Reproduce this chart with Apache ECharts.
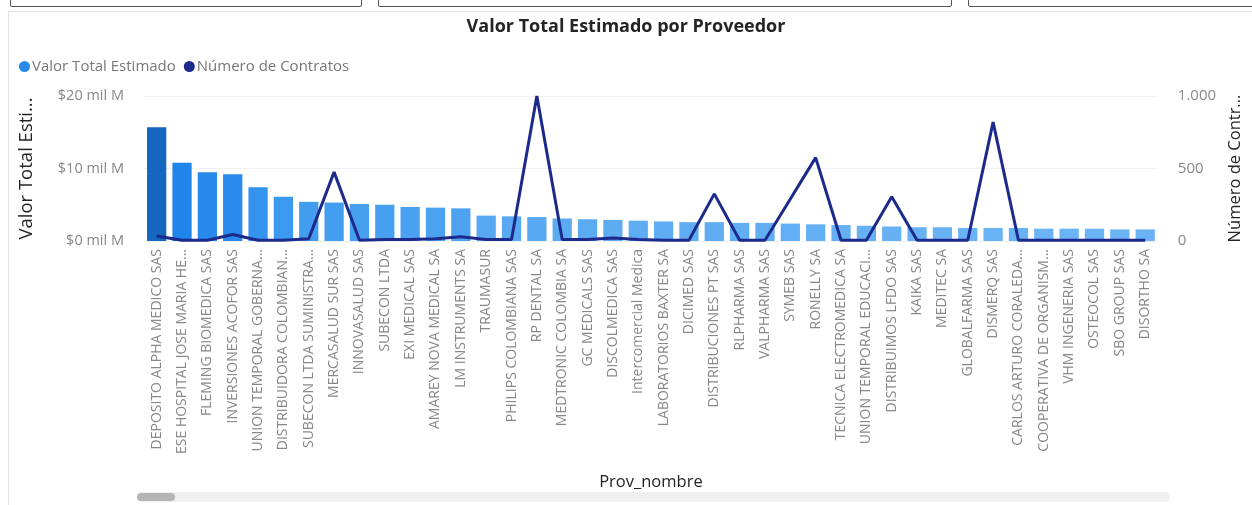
<!DOCTYPE html>
<html>
<head>
<meta charset="utf-8">
<script src="https://cdn.jsdelivr.net/npm/echarts@6/dist/echarts.min.js"></script>
<style>
  html, body { margin: 0; padding: 0; background: #fff; }
  .slicer { position: absolute; top: -4px; height: 9px; border: 1px solid #555; border-radius: 2px; background: #fff; }
  .frame { position: absolute; left: 8px; top: 11px; width: 1260px; height: 510px; border: 1px solid #e3e3e3; }
  .scroll { position: absolute; left: 137px; top: 492px; width: 1033px; height: 10px; background: #f0f0f0; border-radius: 5px; }
  .thumb { position: absolute; left: 0; top: 1px; width: 38px; height: 8px; background: #b5b5b5; border-radius: 4px; }
  #chart { position: absolute; left: 0; top: 0; width: 1252px; height: 505px; }
</style>
</head>
<body>
<div class="slicer" style="left:10px;width:350px"></div>
<div class="slicer" style="left:378px;width:572px"></div>
<div class="slicer" style="left:968px;width:300px"></div>
<div class="frame"></div>
<div id="chart"></div>
<div class="scroll"><div class="thumb"></div></div>
<script>
// proveedores ordenados por valor total estimado
const proveedores = [
  'DEPOSITO ALPHA MEDICO SAS', 'ESE HOSPITAL JOSE MARIA HE...', 'FLEMING BIOMEDICA SAS', 'INVERSIONES ACOFOR SAS',
  'UNION TEMPORAL GOBERNA...', 'DISTRIBUIDORA COLOMBIAN...', 'SUBECON LTDA SUMINISTRA...', 'MERCASALUD SUR SAS',
  'INNOVASALUD SAS', 'SUBECON LTDA', 'EXI MEDICAL SAS', 'AMAREY NOVA MEDICAL SA', 'LM INSTRUMENTS SA',
  'TRAUMASUR', 'PHILIPS COLOMBIANA SAS', 'RP DENTAL SA', 'MEDTRONIC COLOMBIA SA', 'GC MEDICALS SAS',
  'DISCOLMEDICA SAS', 'Intercomercial Medica', 'LABORATORIOS BAXTER SA', 'DICIMED SAS', 'DISTRIBUCIONES PT SAS',
  'RLPHARMA SAS', 'VALPHARMA SAS', 'SYMEB SAS', 'RONELLY SA', 'TECNICA ELECTROMEDICA SA',
  'UNION TEMPORAL EDUCACI...', 'DISTRIBUIMOS LFDO SAS', 'KAIKA SAS', 'MEDITEC SA', 'GLOBALFARMA SAS',
  'DISMERQ SAS', 'CARLOS ARTURO CORALEDA...', 'COOPERATIVA DE ORGANISM...', 'VHM INGENERIA SAS',
  'OSTEOCOL SAS', 'SBO GROUP SAS', 'DISORTHO SA'
]
// valor total estimado, en mil M
const valorTotal = [
  15.7, 10.8, 9.5, 9.2, 7.4, 6.1, 5.4, 5.3, 5.1, 5.0,
  4.7, 4.6, 4.5, 3.5, 3.4, 3.3, 3.1, 3.0, 2.9, 2.8,
  2.7, 2.6, 2.6, 2.5, 2.5, 2.4, 2.3, 2.2, 2.1, 2.0,
  1.9, 1.9, 1.8, 1.8, 1.8, 1.7, 1.7, 1.7, 1.6, 1.6
]
const numContratos = [
  35, 5, 5, 45, 5, 5, 15, 475, 5, 10,
  10, 15, 30, 10, 10, 1000, 10, 10, 20, 10,
  5, 5, 325, 5, 5, 290, 575, 5, 5, 305,
  5, 5, 5, 820, 5, 5, 5, 5, 5, 5
]
const ticksValor = ['$0 mil M', '$10 mil M', '$20 mil M']

const chart = echarts.init(document.getElementById('chart'))
const FONT = '"Open Sans", "Noto Sans", sans-serif'

chart.setOption({
  textStyle: { fontFamily: FONT },
  title: {
    text: 'Valor Total Estimado por Proveedor',
    left: 'center', top: 13,
    textStyle: { fontSize: 18, fontWeight: 'bold', color: '#252423', fontFamily: FONT }
  },
  legend: {
    left: 14, top: 54, itemGap: 8, itemWidth: 11, itemHeight: 11, icon: 'circle',
    textStyle: { fontSize: 15, color: '#777', padding: [0, 0, 0, -3] },
    data: [
      { name: 'Valor Total Estimado', itemStyle: { color: '#2a8ae8' } },
      { name: 'Número de Contratos', itemStyle: { color: '#1c2a8c' } }
    ]
  },
  visualMap: {
    show: false, seriesIndex: 0, min: 1.5, max: 15.7, dimension: 1,
    inRange: { color: ['#6cb4f4', '#3a98ee', '#1f84ea', '#1466be'] }
  },
  grid: { left: 144, right: 88, top: 96, height: 145 },
  xAxis: {
    type: 'category', data: proveedores,
    name: 'Prov_nombre', nameLocation: 'middle', nameGap: 233,
    nameTextStyle: { fontSize: 16.5, color: '#252423' },
    axisLine: { show: false }, axisTick: { show: false },
    axisLabel: { rotate: 90, interval: 0, fontSize: 14, color: '#888', margin: 8 }
  },
  yAxis: [
    {
      type: 'value', min: 0, max: 20, interval: 10,
      name: 'Valor Total Esti...', nameLocation: 'middle', nameGap: 108,
      nameTextStyle: { fontSize: 18.5, color: '#252423' },
      axisLabel: { fontSize: 14.5, color: '#888', margin: 20, formatter: (v) => ticksValor[v / 10] },
      splitLine: { lineStyle: { color: '#f0f0f0' } }
    },
    {
      type: 'value', min: 0, max: 1000, interval: 500,
      name: 'Número de Contr...', nameLocation: 'middle', nameGap: 57,
      nameRotate: 90,
      nameTextStyle: { fontSize: 16.5, color: '#252423' },
      axisLabel: { fontSize: 15, color: '#888', margin: 20, formatter: (v) => v === 1000 ? '1.000' : String(v) },
      splitLine: { show: false }
    }
  ],
  series: [
    {
      name: 'Valor Total Estimado', type: 'bar', data: valorTotal,
      barWidth: '76%'
    },
    {
      name: 'Número de Contratos', type: 'line', yAxisIndex: 1, data: numContratos,
      showSymbol: false, symbol: 'none',
      lineStyle: { color: '#1c2a8c', width: 3 }, itemStyle: { color: '#1c2a8c' }
    }
  ]
})
</script>
</body>
</html>
